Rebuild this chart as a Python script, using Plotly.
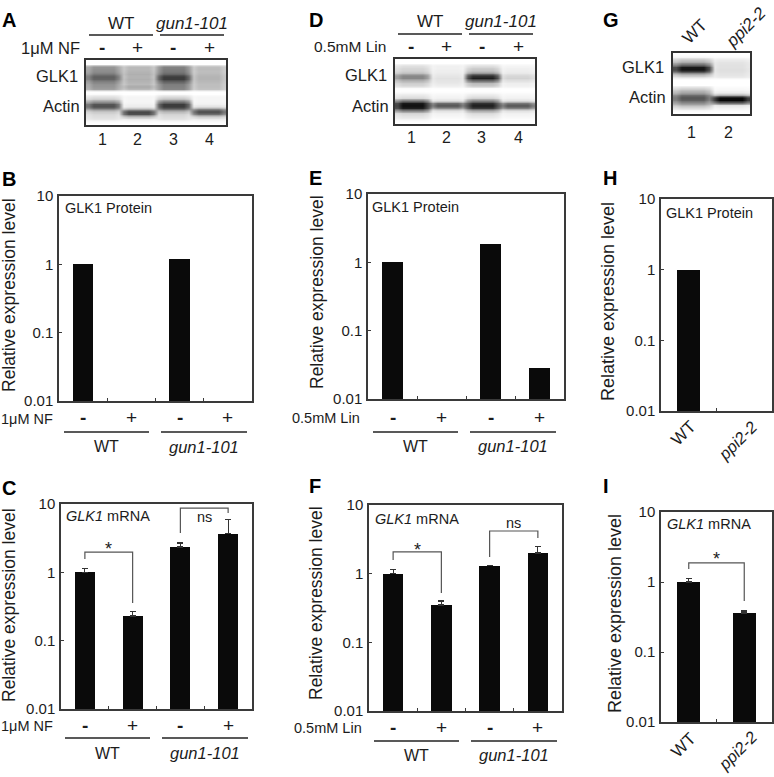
import math
import plotly.graph_objects as go

W, H = 774, 777
FONT = "Liberation Sans"
INK = "#1c1c1c"
FRAME = "#3a3a3a"
BAR = "#0a0a0a"

# ---------- data ----------
cats4 = [0, 1, 2, 3]
cats2 = [0, 1]
y_ticks = [0.01, 0.1, 1, 10]
y_tick_text = ["0.01", "0.1", "1", "10"]

b_protein = [1.0, None, 1.2, None]
c_mrna = [1.0, 0.23, 2.35, 3.7]
c_err = [0.13, 0.035, 0.33, 2.2]
e_protein = [1.0, None, 1.85, 0.028]
f_mrna = [1.0, 0.35, 1.3, 2.0]
f_err = [0.15, 0.05, 0.03, 0.5]
h_protein = [1.0, None]
i_mrna = [1.0, 0.36]
i_err = [0.13, 0.025]

# bracket x (category), y (value): start, top, top, end
c_star_y = [1.57, 1.98, 1.98, 0.356]
c_ns_y = [3.77, 8.7, 8.7, 7.39]
f_star_y = [1.58, 2.07, 2.07, 0.523]
f_ns_y = [1.75, 4.18, 4.18, 3.31]
i_star_y = [1.53, 1.87, 1.87, 0.536]

# blot lane density profiles (top to bottom, 0 = black, 255 = white)
blot_a = [
    [255,255,150,145,140,120,95,100,130,145,150,160,255,250,225,205,150,85,80,140,200,215,222,230,250,255],
    [255,255,185,185,180,175,180,175,180,185,170,185,255,255,245,245,245,240,235,170,70,80,190,235,250,255],
    [255,255,130,125,120,100,60,60,100,125,130,135,255,250,220,190,120,60,60,110,185,210,220,228,250,255],
    [255,255,190,188,190,185,180,180,185,190,190,195,255,255,245,245,245,240,225,130,75,110,205,235,250,255],
]
blot_d = [
    [255,255,225,215,210,190,135,135,180,205,215,250,255,245,230,215,120,25,15,30,130,210,225,235,250,255],
    [255,255,240,240,238,235,230,225,228,232,238,252,255,250,245,240,225,110,85,140,225,240,245,250,255,255],
    [255,255,225,205,195,150,50,30,110,185,200,250,255,245,230,210,135,50,30,60,170,215,230,240,250,255],
    [255,255,245,240,238,232,215,210,225,238,240,252,255,250,245,240,225,120,85,130,225,240,245,250,255,255],
]
blot_g = [
    [255,245,200,170,110,25,20,90,185,225,255,255,255,220,190,165,110,85,95,135,180,215,245,255],
    [255,250,235,228,225,225,222,225,228,235,255,255,255,250,245,235,170,10,5,90,225,240,250,255],
]
lane_fade = [0.78, 1, 1, 1, 1, 1, 0.78]

fig = go.Figure()
annotations = []
shapes = []
axes = {}
n_axis = 0


def text(px, py, s, size=17, anchor="center", angle=0, color=INK):
    annotations.append(dict(
        x=px / W, y=1 - py / H, xref="paper", yref="paper", text=s, showarrow=False,
        xanchor=anchor, yanchor="middle", textangle=angle, borderpad=0, borderwidth=0,
        font=dict(family=FONT, size=size, color=color),
    ))


def hline(x0, x1, py, width=1.4):
    shapes.append(dict(type="line", xref="paper", yref="paper",
                       x0=x0 / W, x1=x1 / W, y0=1 - py / H, y1=1 - py / H,
                       line=dict(color="#222222", width=width)))


def add_axes(x0, x1, y0, y1):
    global n_axis
    n_axis += 1
    suffix = "" if n_axis == 1 else str(n_axis)
    return n_axis, suffix, dict(domain=[x0 / W, x1 / W], anchor="y" + suffix, automargin=False), \
        dict(domain=[1 - y1 / H, 1 - y0 / H], anchor="x" + suffix, automargin=False)


def bar_panel(x0, x1, y0, y1, values, cats, errors=None, ytitle_x=9, ytitle_y=300, bar_w=0.42, title_size=17.5):
    n, s, xa, ya = add_axes(x0, x1, y0, y1)
    trace = go.Bar(x=cats, y=values, width=bar_w, marker=dict(color=BAR, line=dict(width=0)),
                   xaxis="x" + s, yaxis="y" + s, showlegend=False)
    if errors:
        trace.error_y = dict(type="data", symmetric=False, array=errors,
                             arrayminus=[0] * len(errors), color="#333333",
                             thickness=1.2, width=3)
    fig.add_trace(trace)
    mids = [c + 0.5 for c in cats[:-1]]
    xa.update(range=[-0.5, len(cats) - 0.5], tickmode="array", tickvals=mids, ticktext=[""] * len(mids),
              ticks="inside", ticklen=3, tickcolor=FRAME, tickwidth=1.2,
              showline=True, linecolor=FRAME, linewidth=1.5, mirror=True, showgrid=False, zeroline=False)
    ya.update(type="log", range=[-2, 1], tickmode="array", tickvals=y_ticks, ticktext=y_tick_text,
              ticks="inside", ticklen=3, tickcolor=FRAME, tickwidth=1.2, ticklabelstandoff=1,
              tickfont=dict(family=FONT, size=15, color=INK),
              showline=True, linecolor=FRAME, linewidth=1.5, mirror=True, showgrid=False, zeroline=False)
    axes["xaxis" + s] = xa
    axes["yaxis" + s] = ya
    text(ytitle_x, ytitle_y, "Relative expression level", size=title_size, angle=-90)
    return s


def bracket(s, xs, ys, label, label_y, size=17):
    fig.add_trace(go.Scatter(x=xs, y=ys, mode="lines", line=dict(color="#555555", width=1.2),
                             xaxis="x" + s, yaxis="y" + s, showlegend=False, hoverinfo="skip"))
    annotations.append(dict(x=(xs[0] + xs[-1]) / 2, y=math.log10(label_y), xref="x" + s, yref="y" + s,
                            text=label, showarrow=False, xanchor="center", yanchor="middle",
                            font=dict(family=FONT, size=size, color=INK)))


def under_labels(s, x0, cat_w, axis_y, dsub, dline, dgroup, treat, treat_right, wt_span, gun_span):
    centers = [x0 + cat_w * (i + 0.5) for i in range(4)]
    text(treat_right, axis_y + dsub, treat, size=14.5, anchor="right")
    for c, m in zip(centers, ["-", "+", "-", "+"]):
        text(c, axis_y + dsub - 1, "<b>-</b>" if m == "-" else m, size=19)
    hline(wt_span[0], wt_span[1], axis_y + dline)
    hline(gun_span[0], gun_span[1], axis_y + dline)
    text(sum(wt_span) / 2, axis_y + dgroup, "WT", size=16)
    text(sum(gun_span) / 2, axis_y + dgroup, "<i>gun1-101</i>", size=16.5)


def blot(x0, x1, y0, y1, lanes):
    n, s, xa, ya = add_axes(x0, x1, y0, y1)
    rows = len(lanes[0])
    z = []
    for r in range(rows):
        row = []
        for lane in lanes:
            for w in lane_fade:
                row.append(255 - (255 - lane[r]) * w)
        z.append(row)
    fig.add_trace(go.Heatmap(z=z, colorscale=[[0, "#000000"], [1, "#ffffff"]], zmin=0, zmax=255,
                             showscale=False, zsmooth="best", hoverinfo="skip",
                             xaxis="x" + s, yaxis="y" + s))
    cols = len(lanes) * len(lane_fade)
    xa.update(range=[-0.5, cols - 0.5], showticklabels=False, ticks="", showgrid=False, zeroline=False,
              showline=True, linecolor="#333333", linewidth=1.8, mirror=True)
    ya.update(range=[rows - 0.5, -0.5], showticklabels=False, ticks="", showgrid=False, zeroline=False,
              showline=True, linecolor="#333333", linewidth=1.8, mirror=True)
    axes["xaxis" + s] = xa
    axes["yaxis" + s] = ya


# ---------- blots ----------
blot(86, 226, 60, 125, blot_a)
blot(395, 535, 59, 124, blot_d)
blot(673, 750, 53, 114, blot_g)


def blot_labels(centers, lane_y, treat, treat_right, treat_y, wt, gun, line_y, top_y, glk_right, glk_y, act_right, act_y):
    text(treat_right, treat_y, treat, size=16.5 if "NF" in treat else 15.5, anchor="right")
    for c, m, num in zip(centers, ["-", "+", "-", "+"], ["1", "2", "3", "4"]):
        text(c, treat_y, "<b>-</b>" if m == "-" else m, size=19)
        text(c, lane_y, num, size=16)
    hline(wt[0], wt[1], line_y)
    hline(gun[0], gun[1], line_y)
    text(sum(wt) / 2, top_y, "WT", size=17)
    text(sum(gun) / 2, top_y, "<i>gun1-101</i>", size=17)
    text(glk_right, glk_y, "GLK1", size=16.5, anchor="right")
    text(act_right, act_y, "Actin", size=16.5, anchor="right")


blot_labels([102, 137, 173, 209], 139, "1μM NF", 80, 48, (89, 153), (160, 224), 35, 23, 78, 76, 80, 106)
blot_labels([411, 446, 482, 518], 138, "0.5mM Lin", 386, 47, (398, 462), (469, 533), 34, 22, 387, 75, 389, 106)
text(695, 32, "WT", size=17, angle=-45)
text(746, 28, "<i>ppi2-2</i>", size=17, angle=-45)
text(664, 67, "GLK1", size=16.5, anchor="right")
text(666, 97, "Actin", size=16.5, anchor="right")
text(691, 132, "1", size=16)
text(728, 132, "2", size=16)

# ---------- bar panels ----------
s = bar_panel(59, 252, 196, 401, b_protein, cats4, ytitle_x=9, ytitle_y=295)
under_labels(s, 59, 48.25, 401, 18, 31, 46, "1μM NF", 53, (64, 149), (161, 247))
text(65, 208, "GLK1 Protein", size=14.5, anchor="left")

s = bar_panel(61, 252, 504, 709, c_mrna, cats4, c_err, ytitle_x=9, ytitle_y=605)
bracket(s, [0, 0, 1, 1], c_star_y, "*", 2.2, size=18)
bracket(s, [2, 2, 3, 3], c_ns_y, "ns", 6.45, size=14.5)
under_labels(s, 61, 47.75, 709, 17, 29, 44, "1μM NF", 53, (65, 150), (162, 248))
text(66, 516, "<i>GLK1</i> mRNA", size=14.5, anchor="left")

s = bar_panel(368, 564, 194, 399, e_protein, cats4, ytitle_x=317, ytitle_y=292)
under_labels(s, 368, 49, 399, 19, 33, 47, "0.5mM Lin", 360, (373, 458), (470, 556))
text(372, 207, "GLK1 Protein", size=14.5, anchor="left")

s = bar_panel(369, 562, 505, 711, f_mrna, cats4, f_err, ytitle_x=316, ytitle_y=603)
bracket(s, [0, 0, 1, 1], f_star_y, "*", 2.2, size=18)
bracket(s, [2, 2, 3, 3], f_ns_y, "ns", 5.47, size=14.5)
under_labels(s, 369, 48.25, 711, 17, 30, 44, "0.5mM Lin", 362, (374, 459), (471, 557))
text(375, 519, "<i>GLK1</i> mRNA", size=14.5, anchor="left")

s = bar_panel(661, 772, 199, 411, h_protein, cats2, ytitle_x=608, ytitle_y=302, bar_w=0.41, title_size=18)
text(683, 433, "WT", size=17, angle=-45)
text(737, 441, "<i>ppi2-2</i>", size=16.5, angle=-45)
text(666, 213, "GLK1 Protein", size=14.5, anchor="left")

s = bar_panel(661, 772, 512, 722, i_mrna, cats2, i_err, ytitle_x=615, ytitle_y=614, bar_w=0.41, title_size=18)
bracket(s, [0, 0, 1, 1], i_star_y, "*", 2.1, size=18)
text(683, 745, "WT", size=17, angle=-45)
text(737, 751, "<i>ppi2-2</i>", size=16.5, angle=-45)
text(667, 524, "<i>GLK1</i> mRNA", size=14.5, anchor="left")

# ---------- panel letters ----------
for letter, px, py in [("A", 2, 20), ("B", 2, 179), ("C", 2, 488),
                       ("D", 309, 20), ("E", 309, 178), ("F", 309, 486),
                       ("G", 603, 20), ("H", 603, 178), ("I", 603, 486)]:
    text(px, py, "<b>%s</b>" % letter, size=20, anchor="left", color="#000000")

fig.update_layout(
    width=W, height=H, autosize=False, margin=dict(l=0, r=0, t=0, b=0),
    paper_bgcolor="white", plot_bgcolor="rgba(0,0,0,0)", showlegend=False,
    annotations=annotations, shapes=shapes, bargap=0, **axes,
)
fig.write_html("out.html", post_script="document.body.style.margin='0';",
               config={"displayModeBar": False})
